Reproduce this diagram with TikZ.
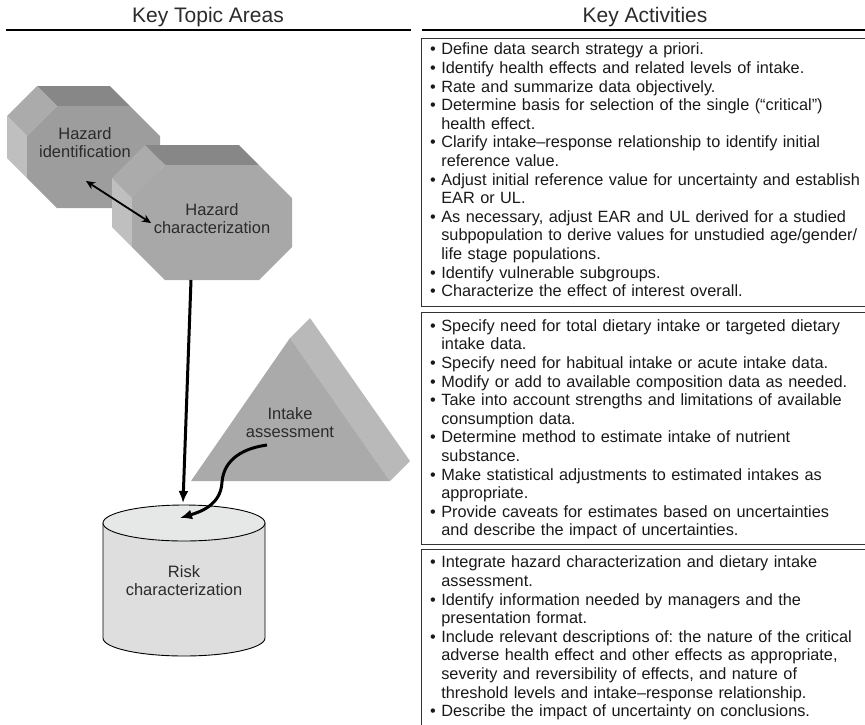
\documentclass[tikz,border=0pt]{standalone}
\usepackage{fontspec}
\setmainfont{Liberation Sans}
\usepackage{xcolor}
\definecolor{topGray}{HTML}{878787}
\definecolor{ulGray}{HTML}{ABABAB}
\definecolor{sideGray}{HTML}{BFBFBF}
\definecolor{hiGray}{HTML}{9D9D9D}
\definecolor{hcGray}{HTML}{A8A8A8}
\definecolor{triGray}{HTML}{AAAAAA}
\definecolor{triSide}{HTML}{B8B9B8}
\definecolor{cylGray}{HTML}{DEDEDE}
\definecolor{cylTop}{HTML}{E6E7E7}
\definecolor{txtGray}{HTML}{2B2B2B}
\usetikzlibrary{arrows.meta}
\newcommand{\actitem}{\textbullet\ }
\newcommand{\actcont}{\phantom{\textbullet\ }}
\frenchspacing

\begin{document}
\begin{tikzpicture}[x=1pt, y=-1pt,
    shapetxt/.style={
        align=center, inner sep=0pt, text=txtGray,
        font=\fontsize{16.5}{18}\selectfont
    },
    hdr/.style={anchor=base, inner sep=0pt, text=txtGray, font=\fontsize{21}{24}\selectfont},
    hrule/.style={line width=2pt},
    actbox/.style={draw=black!80, line width=1pt},
    acttext/.style={
        anchor=north west, align=left, text width=432pt, inner sep=0pt,
        text=black!90, font=\fontsize{16.3}{18.6}\selectfont
    },
    arr/.style={-{Latex[length=12pt,width=10pt]}, line width=3pt},
    darr/.style={{Stealth[length=9pt,width=8pt]}-{Stealth[length=9pt,width=8pt]}, line width=1.8pt}
]
\useasboundingbox (0,0) rectangle (865,724);

\node[hdr] (topics) at (208,22.5) {Key Topic Areas};
\node[hdr] (acts) at (645,22.5) {Key Activities};
\draw[hrule] (6,30) -- (411,30);
\draw[hrule] (422,30) -- (870,30);

\fill[topGray] (57,106) -- (130,106) -- (110,86) -- (37,86) -- cycle;
\fill[ulGray] (27,136) -- (57,106) -- (37,86) -- (7,116) -- cycle;
\fill[sideGray] (27,178) -- (27,136) -- (7,116) -- (7,158) -- cycle;
\fill[hiGray] (57,106) -- (130,106) -- (160,136) -- (160,178) -- (130,208) -- (57,208) -- (27,178) -- (27,136) -- cycle;

\fill[topGray] (165,165) -- (259,165) -- (239,145) -- (145,145) -- cycle;
\fill[ulGray] (132,198) -- (165,165) -- (145,145) -- (112,178) -- cycle;
\fill[sideGray] (132,247) -- (132,198) -- (112,178) -- (112,227) -- cycle;
\fill[hcGray] (165,165) -- (259,165) -- (292,198) -- (292,247) -- (259,280) -- (165,280) -- (132,247) -- (132,198) -- cycle;

\fill[triSide] (290,338) -- (310,318) -- (410,461) -- (390,481) -- cycle;
\fill[triGray] (290,338) -- (390,481) -- (191,481) -- cycle;

\fill[cylGray] (103,523) -- (103,638) arc[start angle=180, end angle=360, x radius=81pt, y radius=18pt] -- (265,523) -- cycle;
\draw[line width=0.9pt] (103,523) -- (103,638) arc[start angle=180, end angle=360, x radius=81pt, y radius=18pt] -- (265,523);
\filldraw[fill=cylTop, line width=0.9pt] (184,523) ellipse [x radius=81pt, y radius=18pt];

\node[shapetxt] (hi) at (85,143) {Hazard\\identification};
\node[shapetxt] (hc) at (212,219) {Hazard\\characterization};
\node[shapetxt] (ia) at (290,423) {Intake\\assessment};
\node[shapetxt] (rc) at (184,581) {Risk\\characterization};

\coordinate (hiEnd) at (86,181);
\coordinate (hcEnd) at (151,223);
\coordinate (hcBase) at (191,280);
\coordinate (rcTop) at (183,503);
\coordinate (iaFoot) at (267,445);
\coordinate (rcIn) at (180,518);

\draw[darr] (hiEnd) -- (hcEnd);
\draw[arr] (hcBase) -- (rcTop);
\draw[arr] (iaFoot) .. controls (245,448) and (224,458) .. (222,482) .. controls (221,505) and (200,512) .. (rcIn);

\draw[actbox] (421,38) rectangle (870,306);
\draw[actbox] (421,312) rectangle (870,544);
\draw[actbox] (421,549) rectangle (870,730);

\node[acttext] (hazActs) at (430,42.8) {%
\actitem Define data search strategy a priori.\\
\actitem Identify health effects and related levels of intake.\\
\actitem Rate and summarize data objectively.\\
\actitem Determine basis for selection of the single (“critical”)\\
\actcont health effect.\\
\actitem Clarify intake--response relationship to identify initial\\
\actcont reference value.\\
\actitem Adjust initial reference value for uncertainty and establish\\
\actcont EAR or UL.\\
\actitem As necessary, adjust EAR and UL derived for a studied\\
\actcont subpopulation to derive values for unstudied age/gender/\\
\actcont life stage populations.\\
\actitem Identify vulnerable subgroups.\\
\actitem Characterize the effect of interest overall.};

\node[acttext] (intakeActs) at (430,319.3) {%
\actitem Specify need for total dietary intake or targeted dietary\\
\actcont intake data.\\
\actitem Specify need for habitual intake or acute intake data.\\
\actitem Modify or add to available composition data as needed.\\
\actitem Take into account strengths and limitations of available\\
\actcont consumption data.\\
\actitem Determine method to estimate intake of nutrient\\
\actcont substance.\\
\actitem Make statistical adjustments to estimated intakes as\\
\actcont appropriate.\\
\actitem Provide caveats for estimates based on uncertainties\\
\actcont and describe the impact of uncertainties.};

\node[acttext] (riskActs) at (430,555.8) {%
\actitem Integrate hazard characterization and dietary intake\\
\actcont assessment.\\
\actitem Identify information needed by managers and the\\
\actcont presentation format.\\
\actitem Include relevant descriptions of: the nature of the critical\\
\actcont adverse health effect and other effects as appropriate,\\
\actcont severity and reversibility of effects, and nature of\\
\actcont threshold levels and intake--response relationship.\\
\actitem Describe the impact of uncertainty on conclusions.};

\end{tikzpicture}
\end{document}
